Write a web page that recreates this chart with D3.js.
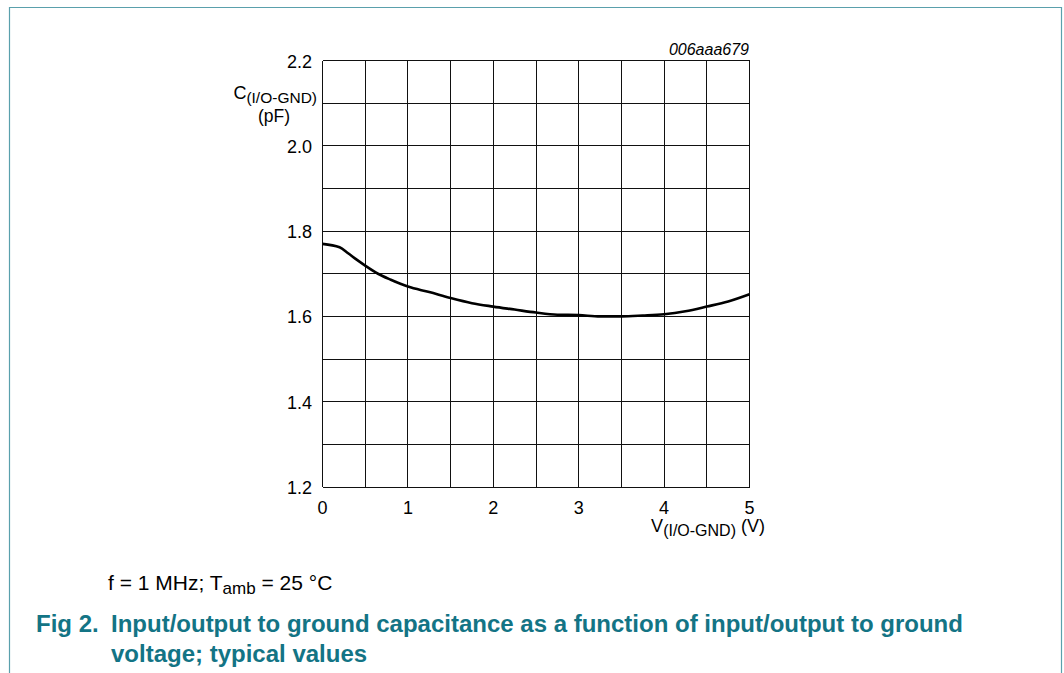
<!DOCTYPE html>
<html><head><meta charset="utf-8">
<script src="https://cdn.jsdelivr.net/npm/d3@7"></script>
<style>body{margin:0;background:#fff;}svg{display:block;font-family:"Liberation Sans",Arial,sans-serif;}</style>
</head><body>
<script>
const voltage = [0, 0.2, 0.3, 0.4, 0.5, 0.65, 0.8, 1.0, 1.25, 1.5, 1.75, 2.0, 2.25, 2.5, 2.75, 3.0, 3.25, 3.5, 3.75, 4.0, 4.25, 4.5, 4.75, 5.0];
const capacitance = [1.770, 1.762, 1.748, 1.733, 1.719, 1.700, 1.686, 1.670, 1.657, 1.643, 1.631, 1.623, 1.616, 1.609, 1.604, 1.603, 1.600, 1.600, 1.602, 1.605, 1.612, 1.623, 1.635, 1.652];
const xTicks = [0, 1, 2, 3, 4, 5];
const yTicks = [1.2, 1.4, 1.6, 1.8, 2.0, 2.2];
const xGrid = d3.range(0, 5.01, 0.5);
const yGrid = d3.range(1.2, 2.201, 0.1);

const W = 1064, H = 673;
const svg = d3.select("body").append("svg").attr("width", W).attr("height", H);

// frame
svg.append("path").attr("d", "M9.5,673 V7.5 H1061.5 V673").attr("fill", "none").attr("stroke", "#5aa0ac").attr("stroke-width", 1.2);

const x = d3.scaleLinear().domain([0, 5]).range([322.5, 749.5]);
const y = d3.scaleLinear().domain([1.2, 2.2]).range([487, 60.5]);

const g = svg.append("g");
g.selectAll("line.vg").data(xGrid).join("line").attr("class", "vg")
  .attr("x1", d => x(d)).attr("x2", d => x(d)).attr("y1", y(1.2)).attr("y2", y(2.2))
  .attr("stroke", "#111").attr("stroke-width", 1).attr("shape-rendering", "crispEdges");
g.selectAll("line.hg").data(yGrid).join("line").attr("class", "hg")
  .attr("y1", d => y(d)).attr("y2", d => y(d)).attr("x1", x(0)).attr("x2", x(5))
  .attr("stroke", "#111").attr("stroke-width", 1).attr("shape-rendering", "crispEdges");

const line = d3.line().x((d, i) => x(voltage[i])).y(d => y(d)).curve(d3.curveMonotoneX);
g.append("path").datum(capacitance).attr("d", line).attr("fill", "none")
  .attr("stroke", "#000").attr("stroke-width", 2.6).attr("stroke-linejoin", "round");

// tick labels
svg.selectAll("text.yt").data(yTicks).join("text").attr("class", "yt")
  .attr("x", 312).attr("y", d => y(d) + 7).attr("text-anchor", "end")
  .attr("font-size", 18).attr("fill", "#000").text(d => d.toFixed(1));
svg.selectAll("text.xt").data(xTicks).join("text").attr("class", "xt")
  .attr("x", d => x(d)).attr("y", 513.5).attr("text-anchor", "middle")
  .attr("font-size", 18).attr("fill", "#000").text(d => d);

// y axis label
const yl = svg.append("text").attr("x", 317).attr("y", 99).attr("text-anchor", "end").attr("font-size", 18);
yl.append("tspan").text("C");
yl.append("tspan").attr("font-size", 15.5).attr("dy", 4).text("(I/O-GND)");
svg.append("text").attr("x", 274).attr("y", 122).attr("text-anchor", "middle").attr("font-size", 17.5).text("(pF)");

// x axis label
const xl = svg.append("text").attr("x", 765).attr("y", 532).attr("text-anchor", "end").attr("font-size", 18);
xl.append("tspan").text("V");
xl.append("tspan").attr("font-size", 16).attr("dy", 4).text("(I/O-GND)");
xl.append("tspan").attr("dy", -4).text(" (V)");

// code
svg.append("text").attr("x", 749).attr("y", 54.5).attr("text-anchor", "end").attr("font-size", 16)
  .attr("font-style", "italic").text("006aaa679");

// footnote
const fn = svg.append("text").attr("x", 108).attr("y", 590).attr("font-size", 21);
fn.append("tspan").text("f = 1 MHz; T");
fn.append("tspan").attr("font-size", 17).attr("dy", 4).text("amb");
fn.append("tspan").attr("dy", -4).text(" = 25 \u00B0C");

// caption
const teal = "#137485";
svg.append("text").attr("x", 36).attr("y", 632).attr("font-size", 24).attr("font-weight", "bold").attr("fill", teal).text("Fig 2.");
svg.append("text").attr("x", 111).attr("y", 632).attr("font-size", 24).attr("font-weight", "bold").attr("fill", teal)
  .text("Input/output to ground capacitance as a function of input/output to ground");
svg.append("text").attr("x", 111).attr("y", 662).attr("font-size", 24).attr("font-weight", "bold").attr("fill", teal)
  .text("voltage; typical values");
</script>
</body></html>
